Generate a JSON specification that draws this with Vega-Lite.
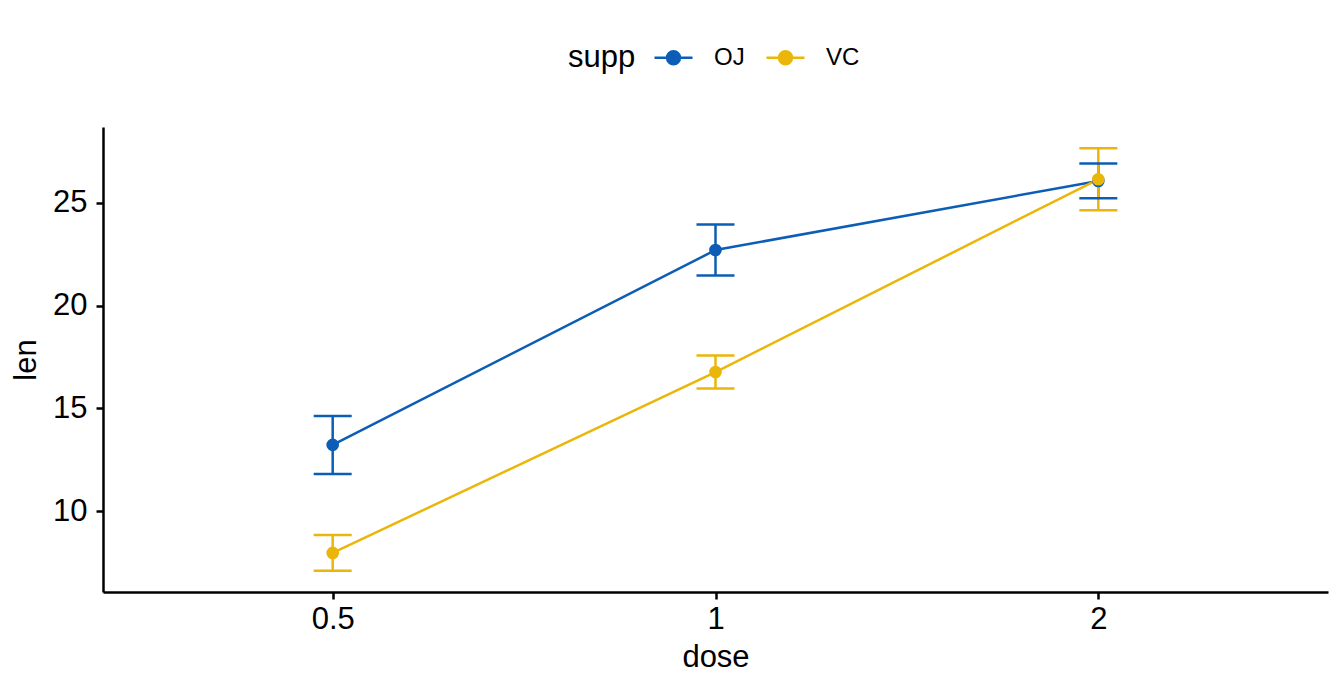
{
  "$schema": "https://vega.github.io/schema/vega-lite/v6.json",
  "width": 1225,
  "height": 465,
  "autosize": {"type": "none"},
  "padding": {"left": 103, "top": 127, "right": 16, "bottom": 99},
  "background": "white",
  "config": {
    "view": {"stroke": null},
    "font": "Liberation Sans",
    "axis": {
      "grid": false,
      "domainColor": "black",
      "domainWidth": 2.5,
      "tickColor": "black",
      "tickWidth": 2.5,
      "tickSize": 7,
      "labelColor": "black",
      "labelFontSize": 31,
      "labelFont": "Liberation Sans",
      "titleColor": "black",
      "titleFontSize": 31,
      "titleFont": "Liberation Sans",
      "titleFontWeight": "normal"
    }
  },
  "data": {
    "values": [
      {"dose": "0.5", "supp": "OJ", "len": 13.23, "lo": 11.82, "hi": 14.64},
      {"dose": "1", "supp": "OJ", "len": 22.70, "lo": 21.46, "hi": 23.94},
      {"dose": "2", "supp": "OJ", "len": 26.06, "lo": 25.22, "hi": 26.90},
      {"dose": "0.5", "supp": "VC", "len": 7.98, "lo": 7.11, "hi": 8.85},
      {"dose": "1", "supp": "VC", "len": 16.77, "lo": 15.97, "hi": 17.57},
      {"dose": "2", "supp": "VC", "len": 26.14, "lo": 24.63, "hi": 27.65}
    ]
  },
  "encoding": {
    "x": {
      "field": "dose",
      "type": "ordinal",
      "sort": ["0.5", "1", "2"],
      "scale": {"type": "point", "padding": 0.6},
      "axis": {"labelAngle": 0, "title": "dose", "titlePadding": 8, "labelPadding": 5}
    },
    "color": {
      "field": "supp",
      "type": "nominal",
      "scale": {"domain": ["OJ", "VC"], "range": ["#0C5DB5", "#EBB60A"]},
      "legend": {
        "orient": "none",
        "legendX": 465,
        "legendY": -90,
        "direction": "horizontal",
        "title": "supp",
        "titleOrient": "left",
        "titleFontSize": 31,
        "titleFontWeight": "normal",
        "titleColor": "black",
        "titlePadding": 17,
        "labelFontSize": 24,
        "labelColor": "black",
        "labelOffset": 20,
        "columnPadding": 16,
        "symbolType": "M-1,0H1M-0.34,0A0.34,0.34 0 1,0 0.34,0A0.34,0.34 0 1,0 -0.34,0Z",
        "symbolSize": 1444,
        "symbolStrokeWidth": 2.5,
        "symbolOpacity": 1,
        "encode": {
          "symbols": {"update": {"size": {"value": 1444}, "opacity": {"value": 1}}},
          "title": {"update": {"dy": {"value": 5}}}
        }
      }
    }
  },
  "layer": [
    {
      "mark": {"type": "rule", "strokeWidth": 2.5},
      "encoding": {
        "y": {"field": "lo", "type": "quantitative"},
        "y2": {"field": "hi"}
      }
    },
    {
      "mark": {"type": "tick", "size": 38, "thickness": 2.5, "orient": "horizontal", "opacity": 1},
      "encoding": {"y": {"field": "lo", "type": "quantitative"}}
    },
    {
      "mark": {"type": "tick", "size": 38, "thickness": 2.5, "orient": "horizontal", "opacity": 1},
      "encoding": {"y": {"field": "hi", "type": "quantitative"}}
    },
    {
      "mark": {"type": "line", "strokeWidth": 2.5},
      "encoding": {
        "y": {"field": "len", "type": "quantitative"}
      }
    },
    {
      "mark": {"type": "point", "filled": true, "size": 160, "opacity": 1},
      "encoding": {
        "y": {
          "field": "len",
          "type": "quantitative",
          "scale": {"domain": [6.08, 28.68], "nice": false, "zero": false},
          "axis": {"values": [10, 15, 20, 25], "title": "len", "titlePadding": 10, "labelPadding": 9}
        }
      }
    }
  ]
}
